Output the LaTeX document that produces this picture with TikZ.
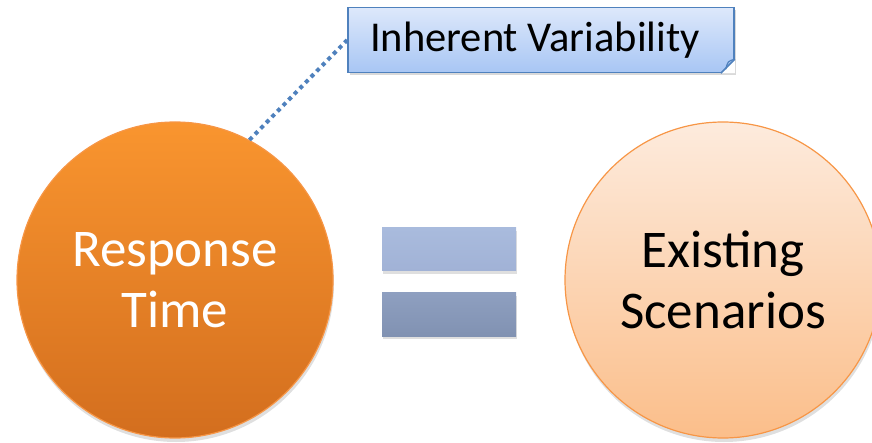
\documentclass[tikz,border=0pt]{standalone}
\usepackage{fontspec}
\setmainfont{Carlito}
\usetikzlibrary{shadows}
\definecolor{rtTop}{HTML}{F9952F}
\definecolor{rtBot}{HTML}{D36E1E}
\definecolor{esTop}{HTML}{FDEBDD}
\definecolor{esBot}{HTML}{FBBE8A}
\definecolor{ringOrange}{HTML}{F79646}
\definecolor{boxTop}{HTML}{DDE8FB}
\definecolor{boxBot}{HTML}{A8C6F4}
\definecolor{boxLine}{HTML}{4F81BD}
\definecolor{barTop}{HTML}{A9BBDD}
\definecolor{barMid}{HTML}{A1B2D6}
\definecolor{barLow}{HTML}{8E9FC0}
\definecolor{barBot}{HTML}{8192B2}
\begin{document}
\begin{tikzpicture}[x=1pt,y=-1pt,
	bigcircle/.style={circle,minimum size=316pt,inner sep=0pt,draw=ringOrange,line width=1.2pt,align=center,
		font=\fontsize{53}{61}\selectfont,drop shadow={shadow xshift=1pt,shadow yshift=-4pt,opacity=0.25}},
	eqbar/.style={rectangle,minimum width=134pt,minimum height=43pt,inner sep=0pt,
		drop shadow={shadow xshift=1pt,shadow yshift=-3pt,opacity=0.25}},
	calloutbox/.style={rectangle,minimum width=386pt,minimum height=65pt,inner sep=0pt,draw=boxLine,line width=1.5pt,
		top color=boxTop,bottom color=boxBot,font=\fontsize{42.5}{48}\selectfont,
		drop shadow={shadow xshift=2pt,shadow yshift=-3pt,opacity=0.3}}]
	\useasboundingbox (0,0) rectangle (872,443);
	\clip (0,0) rectangle (872,443);
	% circles
	\node[bigcircle,top color=rtTop,bottom color=rtBot,text=white] (rt) at (175,280) {Response\\Time};
	\node[bigcircle,top color=esTop,bottom color=esBot] (es) at (723,280) {Existing\\Scenarios};
	% equals sign
	\node[eqbar,top color=barTop,bottom color=barMid] (eqtop) at (449,249.5) {};
	\node[eqbar,top color=barLow,bottom color=barBot] (eqbot) at (449,314.5) {};
	% callout
	\node[calloutbox] (iv) at (541,40) {Inherent Variability\hspace*{12pt}};
	\fill[white] ([yshift=14pt]iv.south east) -- (iv.south east) -- ([xshift=-14pt]iv.south east) -- cycle;
	\draw[boxLine,line width=1.5pt,line join=round] ([yshift=14pt]iv.south east) -- ([xshift=-14pt]iv.south east);
	\draw[boxLine,line width=1.2pt] ([yshift=14pt]iv.south east) .. controls ([xshift=-7pt,yshift=12pt]iv.south east) .. ([xshift=-9pt,yshift=4pt]iv.south east);
	\draw[boxLine,line width=4pt,dash pattern=on 4pt off 4pt] (rt.62) -- (iv.west);
\end{tikzpicture}
\end{document}
